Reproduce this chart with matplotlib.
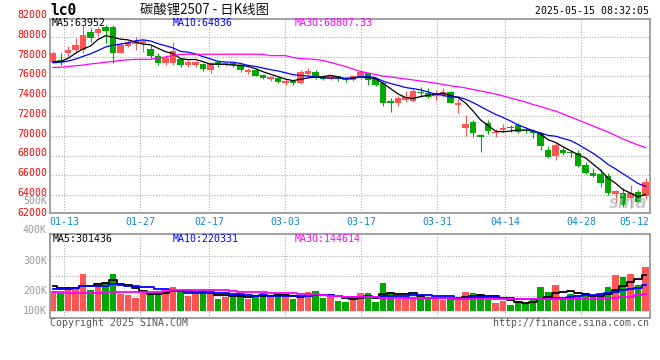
import matplotlib
matplotlib.use("Agg")
import matplotlib.pyplot as plt
import matplotlib.transforms as mtransforms
import pandas as pd

# trading days shown (GFEX, holidays removed)
holidays = ["2025-01-28", "2025-01-29", "2025-01-30", "2025-01-31", "2025-02-03",
            "2025-02-04", "2025-04-04", "2025-05-01", "2025-05-02", "2025-05-05"]
dates = pd.bdate_range("2025-01-09", "2025-05-14", freq="C", holidays=holidays)
date_labels = ["01-13", "01-27", "02-17", "03-03", "03-17", "03-31", "04-14", "04-28", "05-12"]

opens = [77500, 77670, 78350, 78680, 78680, 80540, 80440, 81050, 81050, 78410,
         79090, 79300, 79360, 78820, 78080, 77400, 77330, 77740, 77170, 77170,
         77240, 76660, 77500, 77260, 77400, 77170, 76500, 76700, 76200, 75700,
         75800, 75300, 75500, 75300, 76300, 76500, 75900, 75700, 76000, 75800,
         75600, 75900, 76320, 75720, 75310, 73520, 73290, 73620, 73550, 74400,
         74360, 74030, 74130, 74460, 73110, 70820, 71420, 70080, 71320, 70250,
         70580, 70850, 71090, 70600, 70480, 70250, 68560, 67950, 68560, 68390,
         68220, 67040, 66260, 66130, 65920, 64070, 64230, 63670, 64330, 63900]
highs = [78580, 78350, 79090, 79870, 81110, 80880, 81050, 81220, 81220, 79530,
         79700, 79960, 79800, 79200, 78350, 78180, 79530, 77920, 77670, 77600,
         77400, 77500, 77600, 77500, 77500, 77300, 76900, 76800, 76300, 76100,
         75900, 75700, 75600, 76700, 76900, 76700, 76100, 76200, 76100, 75900,
         76200, 76700, 76400, 75800, 75400, 73790, 74030, 74560, 74730, 74900,
         74800, 74640, 74800, 74560, 73690, 72100, 71590, 70180, 71590, 70650,
         71160, 71090, 71250, 70900, 70580, 70420, 68960, 69230, 68900, 68560,
         68560, 67370, 66700, 66640, 66200, 64500, 64740, 65010, 64500, 65690]
lows = [77330, 77170, 78080, 78350, 78420, 79530, 80100, 79360, 77330, 78350,
        78940, 78680, 78510, 77920, 77170, 77170, 77160, 77000, 77000, 77000,
        76600, 76320, 77000, 77100, 76950, 76500, 76300, 76000, 75700, 75500,
        75300, 75100, 75100, 75200, 76100, 75700, 75600, 75600, 75500, 75400,
        75500, 75700, 75140, 75000, 73010, 72440, 73040, 73450, 73450, 73900,
        73790, 73620, 73960, 73290, 72320, 69980, 69900, 68390, 70180, 69900,
        70330, 70430, 70240, 70300, 69740, 68560, 67710, 67540, 68100, 67880,
        66800, 66120, 65870, 64840, 64000, 63160, 62820, 62650, 63160, 63570]
closes = [78350, 77470, 78720, 79190, 80200, 79870, 80780, 80640, 78410, 79190,
          79530, 79630, 79630, 78080, 77400, 77840, 78610, 77170, 77500, 77500,
          76730, 77330, 77170, 77400, 77130, 76660, 76700, 76100, 75800, 75900,
          75400, 75500, 75300, 76500, 76600, 75800, 75700, 76000, 75700, 75600,
          76000, 76500, 75650, 75140, 73290, 73290, 73790, 73890, 74560, 74300,
          73950, 74300, 74460, 73350, 73290, 71160, 70310, 69920, 70510, 70410,
          70820, 70750, 70410, 70490, 70250, 68960, 67880, 69060, 68290, 68250,
          66970, 66200, 65960, 65180, 64230, 64400, 62990, 64170, 63320, 65350]
# closes before the first visible day (estimated from the MA lines' start)
prior_closes = [77100, 77500, 77200, 77400, 77300, 77470, 77020, 76640, 78020]

# MA30
ma30 = [76910, 76930, 77010, 77080, 77160, 77270, 77350, 77450, 77520, 77620,
        77690, 77740, 77740, 77740, 77870, 77970, 78130, 78230, 78250, 78250,
        78250, 78250, 78250, 78250, 78250, 78250, 78250, 78250, 78250, 78110,
        78110, 78110, 77920, 77820, 77770, 77720, 77620, 77420, 77210, 77010,
        76760, 76510, 76350, 76200, 76050, 75950, 75850, 75750, 75650, 75550,
        75440, 75320, 75190, 75060, 74970, 74840, 74680, 74530, 74380, 74230,
        74030, 73820, 73620, 73420, 73160, 72960, 72710, 72510, 72200, 71900,
        71600, 71290, 70990, 70680, 70380, 70030, 69670, 69370, 69060, 68810]

volumes = [173, 157, 204, 204, 315, 179, 241, 249, 315, 147,
           136, 113, 149, 157, 164, 164, 207, 173, 128, 150,
           164, 142, 102, 122, 122, 147, 102, 130, 156, 122,
           150, 122, 102, 108, 164, 173, 113, 119, 85, 74,
           116, 150, 150, 79, 241, 164, 102, 122, 122, 113,
           102, 113, 94, 113, 94, 164, 156, 147, 94, 71,
           88, 51, 74, 65, 99, 207, 164, 221, 102, 145,
           116, 150, 122, 122, 207, 306, 292, 315, 221, 377]
prior_volumes = [150, 160, 155, 165, 150, 230, 215, 220, 222]
vol_ma30 = [159, 159, 150, 150, 150, 150, 153, 159, 159, 159,
            159, 162, 162, 164, 164, 170, 178, 178, 178, 178,
            178, 178, 178, 178, 170, 164, 164, 159, 159, 150,
            150, 150, 150, 142, 142, 142, 136, 130, 125, 122,
            119, 119, 116, 115, 112, 109, 108, 108, 108, 108,
            108, 108, 108, 108, 105, 105, 105, 105, 105, 102,
            102, 102, 102, 102, 99, 99, 99, 99, 102, 102,
            102, 105, 105, 105, 108, 108, 116, 122, 132, 142]

# values printed in the legends
price_ma_text = ["MA5:63952", "MA10:64836", "MA30:68807.33"]
vol_ma_text = ["MA5:301436", "MA10:220331", "MA30:144614"]

RED = "#ff5555"
GREEN = "#00a800"
GRID = "#aaaaaa"
FRAME = "#9a9a9a"
MONO = "DejaVu Sans Mono"
CJK = ["Noto Sans CJK SC", "DejaVu Sans"]
FS = 7.1

n = len(closes)
x = list(range(n))
cl = pd.Series(prior_closes + closes)
ma5 = cl.rolling(5).mean().iloc[len(prior_closes):].values
ma10 = cl.rolling(10).mean().iloc[len(prior_closes):].values
vol = pd.Series(prior_volumes + volumes) * 1000
vma5 = vol.rolling(5).mean().iloc[len(prior_volumes):].values
vma10 = vol.rolling(10).mean().iloc[len(prior_volumes):].values
vma30 = [v * 1000 for v in vol_ma30]
colors = [RED if c >= o else GREEN for o, c in zip(opens, closes)]

W, H = 660, 360


def fx(px):
    return px / W


def fy(py):
    return 1 - py / H


fig = plt.figure(figsize=(6.6, 3.6), dpi=100)
fig.patch.set_facecolor("white")
ax = fig.add_axes([fx(50), fy(213), (649.5 - 50) / W, (213 - 19) / H])
axv = fig.add_axes([fx(50), fy(318), (649.5 - 50) / W, (318 - 234) / H])

# sina draws its date grid slightly wider than the bar spacing
lab_idx = [list(dates.strftime("%m-%d")).index(d) for d in date_labels]
grid_x = [i * 1.0135 - 0.5 for i in lab_idx]

for a in (ax, axv):
    a.set_xlim(-0.4, 79.53)
    a.set_xticks([])
    a.set_yticks([])
    for s in a.spines.values():
        s.set_color(FRAME)
        s.set_linewidth(1.3)
    for gx in grid_x[:-1]:
        a.axvline(gx, color=GRID, lw=0.8, ls=(0, (1, 1.5)), zorder=0)

# ---- price panel ----
ax.set_ylim(62180, 81820)
for lv in range(64000, 80001, 2000):
    ax.axhline(lv, color=GRID, lw=0.8, ls=(0, (1, 1.5)), zorder=0)

bodies = [max(abs(c - o), 70) for o, c in zip(opens, closes)]
ax.vlines(x, lows, highs, colors=colors, lw=0.8, zorder=2)
ax.bar(x, bodies, bottom=[min(o, c) for o, c in zip(opens, closes)],
       width=0.82, color=colors, lw=0, zorder=3)
ax.plot(x, ma5, color="black", lw=0.9, zorder=4)
ax.plot(x, ma10, color="#0000ff", lw=0.9, zorder=4)
ax.plot(x, ma30, color="#ff00ff", lw=0.9, zorder=4)

lab_tr = mtransforms.blended_transform_factory(fig.transFigure, ax.transData) + \
    mtransforms.ScaledTranslation(0, 1.5 / 72, fig.dpi_scale_trans)
for lv in range(62000, 82001, 2000):
    ax.text(fx(47), lv, str(lv), transform=lab_tr, ha="right", va="center",
            color="#ff0000", fontsize=FS, family=MONO, clip_on=False)

for txt, px, col in zip(price_ma_text, [52, 173, 295], ["black", "#0000ff", "#ff00ff"]):
    fig.text(fx(px), fy(23.3), txt, va="center", fontsize=FS, family=MONO, color=col)

fig.text(fx(648), fy(203), "sina", ha="right", va="center", fontsize=12,
         fontweight="bold", style="italic", color="#b8b8b8", alpha=0.7, zorder=10)

# ---- volume panel ----
axv.set_ylim(-59500, 654500)
lo, hi = axv.get_ylim()
for f in (0.262, 0.5, 0.738):
    axv.axhline(lo + f * (hi - lo), color=GRID, lw=0.8, ls=(0, (1, 1.5)), zorder=0)
axv.bar(x, vol.iloc[len(prior_volumes):].values, width=0.82, color=colors, lw=0, zorder=2)
axv.plot(x, vma5, color="black", lw=1.3, drawstyle="steps-mid", zorder=4)
axv.plot(x, vma10, color="#0000ff", lw=1.3, drawstyle="steps-mid", zorder=4)
axv.plot(x, vma30, color="#ff00ff", lw=1.3, drawstyle="steps-mid", zorder=4)

for txt, py in [("100K", 310.7), ("200K", 290.7), ("300K", 260.7),
                ("400K", 230.5), ("500K", 201.5)]:
    fig.text(fx(47), fy(py), txt, ha="right", va="center", color="#999999",
             fontsize=FS, family=MONO)

for txt, px, col in zip(vol_ma_text, [53, 173, 295], ["black", "#0000ff", "#ff00ff"]):
    fig.text(fx(px), fy(239), txt, va="center", fontsize=FS, family=MONO, color=col)

# date labels
for i, (lbl, gx) in enumerate(zip(date_labels, grid_x)):
    px = 53 + 7.5 * gx
    if i == len(date_labels) - 1:
        px = min(px + 3, 649 - 15)
    fig.text(fx(px), fy(221.7), lbl, ha="center", va="center", fontsize=FS,
             family=MONO, color="#0a88d8")

# header / footer
fig.text(fx(50), fy(10.5), "lc0", va="center", fontsize=10.5, family=MONO,
         fontweight="bold", color="black")
fig.text(fx(140), fy(9.5), "碳酸锂2507 - 日K线图", va="center", fontsize=9.6,
         family=CJK, color="#111111")
fig.text(fx(649), fy(11.5), "2025-05-15 08:32:05", ha="right", va="center",
         fontsize=FS, family=MONO, color="black")
fig.text(fx(50), fy(322.7), "Copyright 2025 SINA.COM", va="center", fontsize=FS,
         family=MONO, color="#555555")
fig.text(fx(649), fy(323), "http://finance.sina.com.cn", ha="right", va="center",
         fontsize=FS, family=MONO, color="#555555")

fig.savefig("out.png", dpi=100)
